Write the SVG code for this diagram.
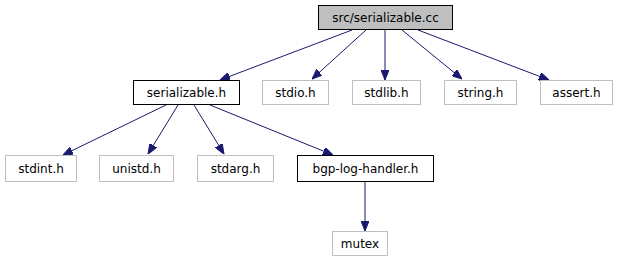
<svg xmlns="http://www.w3.org/2000/svg" width="619" height="261" viewBox="0 0 619 261">
  <style>
    .box { fill: #ffffff; stroke: #000000; stroke-width: 1; }
    .sys { fill: #ffffff; stroke: #bfbfbf; stroke-width: 1; }
    .root { fill: #bfbfbf; stroke: #000000; stroke-width: 1; }
    .lbl { font-family: "DejaVu Sans", "Liberation Sans", sans-serif; font-size: 12px; fill: #000000; text-anchor: middle; }
    .edge { fill: none; stroke: #191970; stroke-width: 1; }
  </style>
  <defs>
    <marker id="arrow" markerWidth="10" markerHeight="8" refX="10" refY="4" orient="auto" markerUnits="userSpaceOnUse">
      <path d="M0,0 L10,4 L0,8 Z" fill="#191970" stroke="#191970"/>
    </marker>
  </defs>

  <rect width="619" height="261" fill="#ffffff"/>

  <g id="edges">
    <line class="edge" x1="352" y1="30" x2="220" y2="80" marker-end="url(#arrow)"/>
    <line class="edge" x1="366" y1="30" x2="312" y2="79" marker-end="url(#arrow)"/>
    <line class="edge" x1="385" y1="30" x2="385" y2="80" marker-end="url(#arrow)"/>
    <line class="edge" x1="402" y1="30" x2="462" y2="79" marker-end="url(#arrow)"/>
    <line class="edge" x1="418" y1="30" x2="549" y2="80" marker-end="url(#arrow)"/>
    <line class="edge" x1="166" y1="105" x2="63" y2="155" marker-end="url(#arrow)"/>
    <line class="edge" x1="178" y1="105" x2="148" y2="154" marker-end="url(#arrow)"/>
    <line class="edge" x1="194" y1="105" x2="224" y2="154" marker-end="url(#arrow)"/>
    <line class="edge" x1="210" y1="105" x2="333" y2="155" marker-end="url(#arrow)"/>
    <line class="edge" x1="365" y1="182" x2="365" y2="231" marker-end="url(#arrow)"/>
  </g>

  <g id="node-serializable-cc">
    <rect class="root" x="318.5" y="5.5" width="134" height="24"/>
    <text class="lbl" x="385.5" y="22">src/serializable.cc</text>
  </g>
  <g id="node-serializable-h">
    <rect class="box" x="133.5" y="80.5" width="106" height="24"/>
    <text class="lbl" x="186.5" y="97">serializable.h</text>
  </g>
  <g id="node-stdio">
    <rect class="sys" x="262.5" y="80.5" width="66" height="24"/>
    <text class="lbl" x="295.5" y="97">stdio.h</text>
  </g>
  <g id="node-stdlib">
    <rect class="sys" x="352.5" y="80.5" width="68" height="24"/>
    <text class="lbl" x="386.5" y="97">stdlib.h</text>
  </g>
  <g id="node-string">
    <rect class="sys" x="444.5" y="80.5" width="72" height="24"/>
    <text class="lbl" x="480.5" y="97">string.h</text>
  </g>
  <g id="node-assert">
    <rect class="sys" x="540.5" y="80.5" width="72" height="24"/>
    <text class="lbl" x="576.5" y="97">assert.h</text>
  </g>
  <g id="node-stdint">
    <rect class="sys" x="5.5" y="155.5" width="71" height="26"/>
    <text class="lbl" x="41" y="173">stdint.h</text>
  </g>
  <g id="node-unistd">
    <rect class="sys" x="99.5" y="155.5" width="74" height="26"/>
    <text class="lbl" x="136.5" y="173">unistd.h</text>
  </g>
  <g id="node-stdarg">
    <rect class="sys" x="197.5" y="155.5" width="76" height="26"/>
    <text class="lbl" x="235.5" y="173">stdarg.h</text>
  </g>
  <g id="node-bgp-log-handler">
    <rect class="box" x="297.5" y="155.5" width="136" height="26"/>
    <text class="lbl" x="365.5" y="173">bgp-log-handler.h</text>
  </g>
  <g id="node-mutex">
    <rect class="sys" x="332.5" y="231.5" width="55" height="24"/>
    <text class="lbl" x="360" y="248">mutex</text>
  </g>
</svg>
